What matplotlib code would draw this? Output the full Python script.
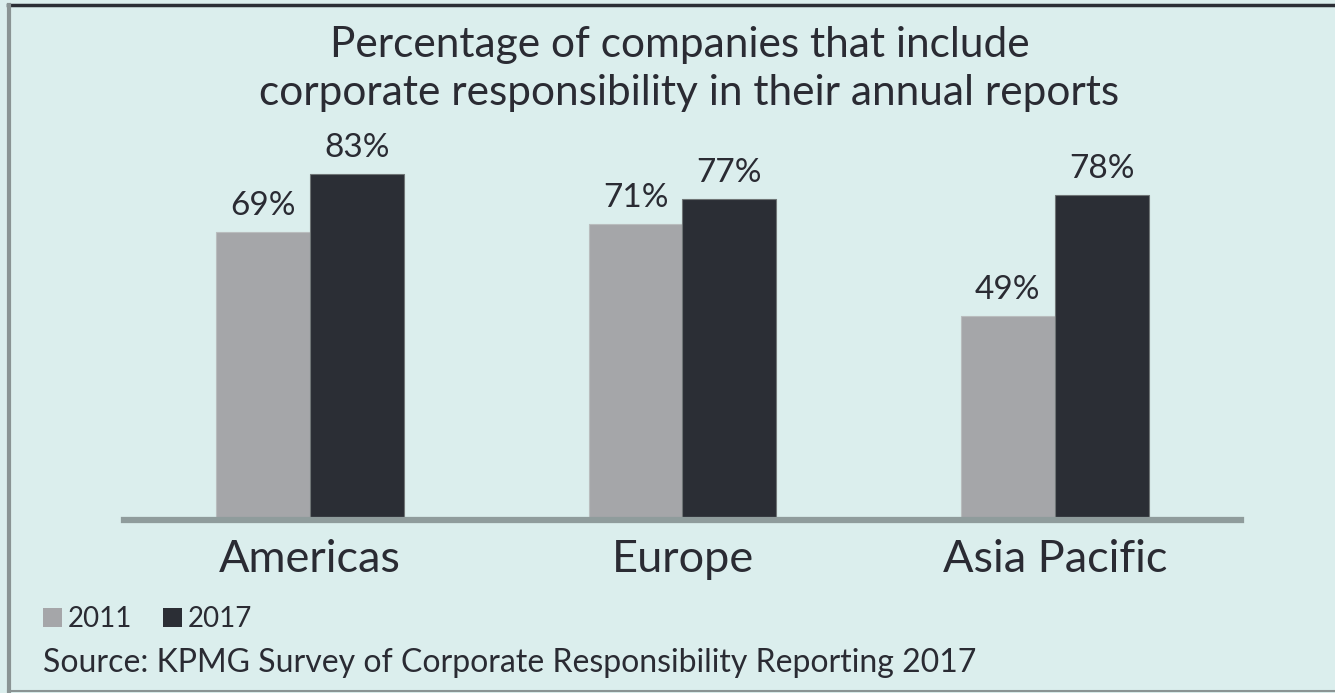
import matplotlib
matplotlib.use("Agg")
import matplotlib.pyplot as plt
from matplotlib.patches import Patch
import numpy as np

categories = ["Americas", "Europe", "Asia Pacific"]
years = ["2011", "2017"]
values_2011 = [69, 71, 49]
values_2017 = [83, 77, 78]
title_lines = ["Percentage of companies that include",
               "corporate responsibility in their annual reports"]
source_text = "Source: KPMG Survey of Corporate Responsibility Reporting 2017"

BG = "#dbeeed"
C2011 = "#a5a6a9"
C2017 = "#2b2e35"
TXT = "#2a2b33"

plt.rcParams['font.family'] = ['Lato', 'DejaVu Sans']

W, H = 1335, 693
fig = plt.figure(figsize=(W / 100, H / 100), dpi=100)
fig.patch.set_facecolor(BG)

# axes in pixel coordinates
x0, x1 = 124, 1241
ybase, ytop = 520, 103
ax = fig.add_axes([x0 / W, 1 - ybase / H, (x1 - x0) / W, (ybase - ytop) / H])
ax.set_facecolor(BG)
ax.set_xlim(-0.5, 2.5)
ax.set_ylim(0, 100)

x = np.arange(len(categories))
bw = 0.252
b1 = ax.bar(x - bw / 2, values_2011, bw, color=C2011, edgecolor="#b9bdbe", linewidth=0.8)
b2 = ax.bar(x + bw / 2, values_2017, bw, color=C2017, edgecolor="#6f7576", linewidth=0.8)

for bars, vals in ((b1, values_2011), (b2, values_2017)):
    for rect, v in zip(bars, vals):
        ax.annotate(f"{v}%", (rect.get_x() + rect.get_width() / 2, v),
                    xytext=(0, 8), textcoords="offset points",
                    ha="center", va="bottom", fontsize=24, color=TXT)

for s in ("top", "right", "left"):
    ax.spines[s].set_visible(False)
ax.spines["bottom"].set_color("#8f9c9c")
ax.spines["bottom"].set_linewidth(4.5)
ax.set_yticks([])
ax.set_xticks(x)
ax.set_xticklabels(categories, fontsize=32.5, color=TXT)
ax.tick_params(axis="x", length=0, pad=14)

# title
fig.text(680 / W, 1 - 57 / H, title_lines[0], ha="center", va="baseline",
         fontsize=30.5, color=TXT)
fig.text(689 / W, 1 - 105 / H, title_lines[1], ha="center", va="baseline",
         fontsize=30.5, color=TXT)

# legend
handles = [Patch(facecolor=C2011, edgecolor="none"), Patch(facecolor=C2017, edgecolor="none")]
fig.legend(handles, years, loc="center left", bbox_to_anchor=(43 / W, 1 - 619 / H),
           ncol=2, frameon=False, fontsize=20, handlelength=0.7, handleheight=0.7,
           handletextpad=0.2, columnspacing=1.1, borderpad=0, borderaxespad=0,
           labelcolor=TXT)

# source
fig.text(43 / W, 1 - 672 / H, source_text, ha="left", va="baseline",
         fontsize=23, color=TXT)

# border lines
fig.add_artist(plt.Line2D([8 / W, 1], [1 - 5 / H, 1 - 5 / H], color="#2b2e35", linewidth=2.5,
                          transform=fig.transFigure))
fig.add_artist(plt.Line2D([9 / W, 9 / W], [1 - 5 / H, 1 - 691 / H], color="#8a9494", linewidth=3,
                          transform=fig.transFigure))
fig.add_artist(plt.Line2D([8 / W, 1], [1 - 691 / H, 1 - 691 / H], color="#8a9494", linewidth=1.5,
                          transform=fig.transFigure))

fig.savefig("out.png", dpi=100, facecolor=BG)
